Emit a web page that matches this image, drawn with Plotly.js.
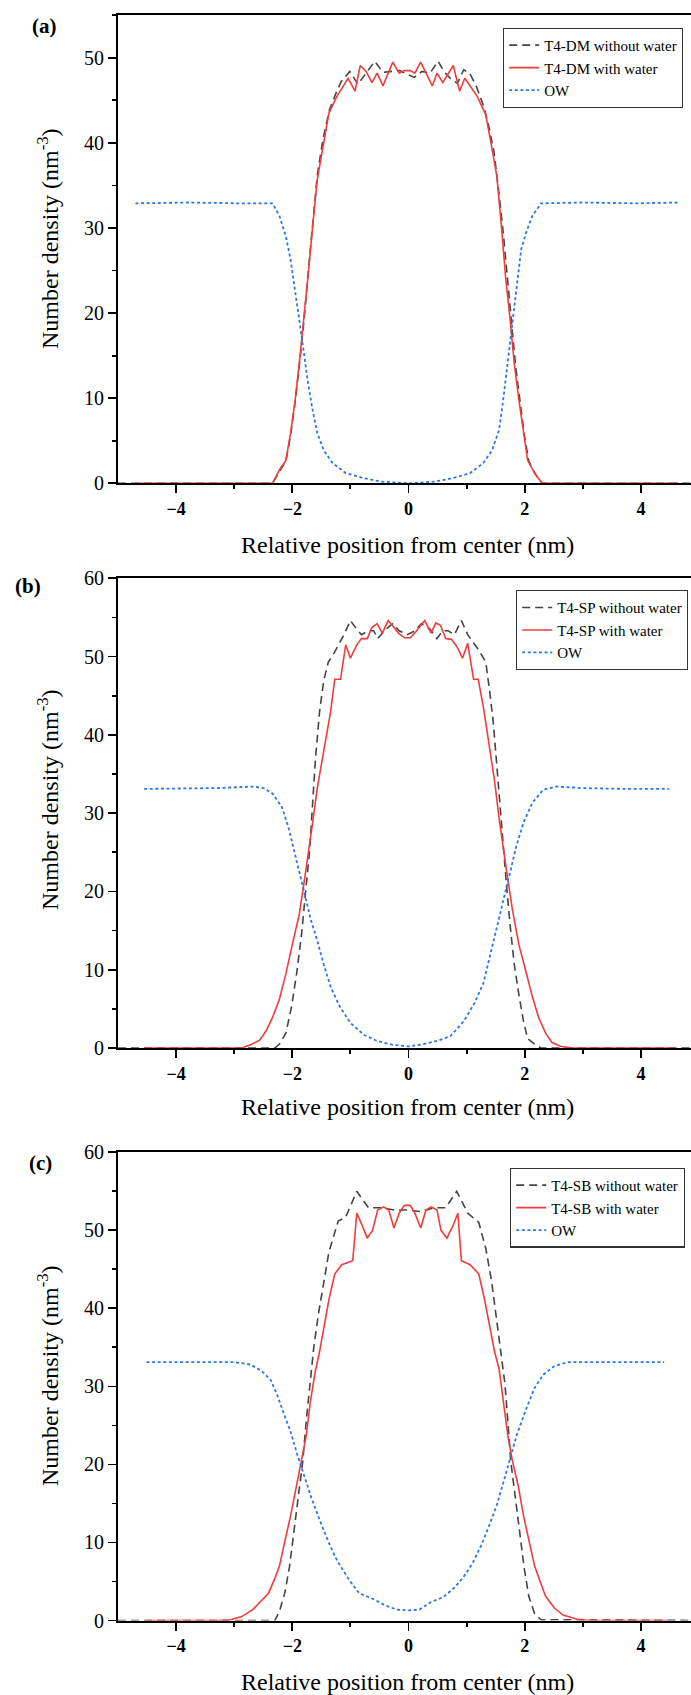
<!DOCTYPE html>
<html>
<head>
<meta charset="utf-8">
<script src="https://cdn.plot.ly/plotly-3.0.1.min.js"></script>
<style>
  html, body { margin: 0; padding: 0; overflow: hidden; background: #fff; }
  #chart { width: 720px; height: 1695px; }
</style>
</head>
<body>
<div id="chart"></div>
<script>
// ---------- Panel (a): T4-DM ----------
const xA_dry = [-5.0,-2.34,-2.22,-2.11,-2.03,-1.95,-1.88,-1.80,-1.73,-1.65,-1.57,-1.47,-1.36,-1.25,-1.16,-1.01,-0.87,-0.73,-0.58,-0.44,-0.29,-0.15,0.0,0.10,0.23,0.37,0.51,0.62,0.72,0.84,0.95,1.05,1.16,1.29,1.38,1.47,1.55,1.63,1.70,1.77,1.84,1.92,1.99,2.07,2.18,2.30,5.0];
const yA_dry = [0,0,1.4,2.6,5.6,9.6,13.8,19.0,24.5,30.5,36.2,40.5,43.9,45.8,47.2,48.4,46.9,48.2,49.6,48.3,48.4,48.5,48.0,47.7,48.4,48.2,49.6,48.3,47.6,47.0,48.6,48.2,46.8,44.4,42.0,39.0,34.5,29.5,24.3,19.0,14.0,9.6,5.8,2.6,1.1,0,0];

const xA_wet = [-4.70,-2.34,-2.22,-2.11,-2.03,-1.95,-1.88,-1.80,-1.73,-1.65,-1.57,-1.47,-1.37,-1.23,-1.04,-0.92,-0.83,-0.73,-0.63,-0.54,-0.44,-0.27,-0.16,-0.07,0.03,0.11,0.21,0.41,0.49,0.59,0.77,0.88,0.97,1.18,1.33,1.43,1.52,1.60,1.67,1.75,1.82,1.90,1.98,2.05,2.17,2.30,4.65];
const yA_wet = [0,0,1.6,2.7,5.9,9.8,14.1,19.2,24.3,30.2,35.7,39.6,43.5,45.5,47.6,46.1,49.1,48.4,47.1,48.2,46.7,49.5,48.2,48.5,48.5,48.2,49.5,46.7,48.2,47.1,49.1,46.1,47.6,45.5,43.3,39.6,36.1,30.2,24.3,19.2,14.1,9.8,5.9,2.7,1.2,0,0];

const xA_ow = [-4.70,-3.80,-2.90,-2.34,-2.22,-2.11,-2.03,-1.95,-1.88,-1.80,-1.73,-1.65,-1.57,-1.46,-1.31,-1.08,-0.77,-0.47,0.0,0.45,0.76,1.06,1.29,1.44,1.56,1.63,1.71,1.79,1.86,1.94,2.02,2.13,2.28,3.00,3.90,4.65];
const yA_ow = [32.9,33.0,32.9,32.9,31.4,29.0,26.3,22.7,19.2,15.3,11.8,8.6,5.9,3.9,2.4,1.2,0.6,0.2,0.0,0.2,0.6,1.2,2.4,3.9,6.3,9.8,14.5,19.2,23.5,27.5,29.4,31.4,32.9,33.0,32.9,33.0];

// ---------- Panel (b): T4-SP ----------
const xB_dry = [-5.0,-2.30,-2.22,-2.11,-2.01,-1.92,-1.84,-1.76,-1.70,-1.65,-1.60,-1.53,-1.46,-1.38,-1.27,-1.11,-1.00,-0.91,-0.81,-0.69,-0.60,-0.53,-0.39,-0.27,-0.16,-0.02,0.11,0.22,0.37,0.49,0.59,0.68,0.79,0.91,1.02,1.21,1.33,1.40,1.46,1.52,1.58,1.63,1.69,1.75,1.82,1.90,1.98,2.05,2.17,2.28,5.0];
const yB_dry = [0,0,0.5,1.9,5.4,9.8,14.6,20.5,25.4,31.3,37.1,43.0,46.9,49.3,50.6,52.8,54.6,53.7,52.8,53.3,53.3,52.3,53.5,54.2,53.3,52.8,53.3,54.2,53.5,52.3,53.3,53.3,52.8,54.6,52.8,50.8,49.3,45.4,41.5,36.1,30.3,25.4,20.5,15.6,10.7,6.8,3.4,1.2,0.5,0,0];

const xB_wet = [-4.55,-2.87,-2.72,-2.56,-2.45,-2.34,-2.22,-2.11,-2.00,-1.88,-1.80,-1.73,-1.65,-1.57,-1.46,-1.34,-1.27,-1.17,-1.08,-1.00,-0.89,-0.81,-0.71,-0.63,-0.54,-0.45,-0.35,-0.25,-0.16,-0.07,0.03,0.13,0.28,0.39,0.47,0.55,0.64,0.74,0.83,0.93,1.02,1.12,1.20,1.29,1.38,1.48,1.56,1.63,1.71,1.79,1.90,2.02,2.13,2.24,2.36,2.47,2.63,2.85,4.57];
const yB_wet = [0,0,0.4,1.0,2.2,3.9,6.3,9.5,13.2,17.1,21.0,24.4,28.8,33.2,38.1,43.0,47.1,47.1,51.5,49.8,51.5,52.3,52.3,53.7,54.2,53.0,54.6,53.7,52.9,52.4,52.4,53.2,54.6,53.0,54.3,54.0,52.3,52.2,51.3,49.8,51.7,47.1,47.1,43.5,39.1,34.2,29.3,25.4,21.5,17.6,13.2,9.8,6.6,3.9,1.9,0.7,0.2,0,0];

const xB_ow = [-4.55,-3.90,-3.29,-2.68,-2.49,-2.34,-2.18,-2.07,-1.98,-1.88,-1.78,-1.69,-1.57,-1.46,-1.34,-1.19,-1.00,-0.77,-0.54,-0.27,0.0,0.26,0.49,0.72,0.95,1.14,1.29,1.40,1.52,1.63,1.75,1.86,1.98,2.13,2.32,2.55,2.97,3.73,4.48];
const yB_ow = [33.1,33.2,33.2,33.4,33.2,32.5,30.8,28.3,25.4,22.5,19.5,16.6,13.7,10.7,7.8,5.4,3.2,1.7,0.9,0.4,0.2,0.5,0.9,1.5,3.4,5.8,8.3,11.7,15.6,19.0,22.5,25.9,28.8,31.3,33.0,33.4,33.2,33.1,33.1];

// ---------- Panel (c): T4-SB ----------
const xC_dry = [-5.0,-2.30,-2.22,-2.13,-2.05,-1.98,-1.90,-1.82,-1.76,-1.70,-1.63,-1.55,-1.47,-1.37,-1.21,-1.08,-0.89,-0.69,-0.47,-0.24,0.0,0.22,0.45,0.64,0.83,1.02,1.21,1.33,1.43,1.50,1.58,1.66,1.71,1.76,1.84,1.92,1.99,2.07,2.17,2.28,5.0];
const yC_dry = [0,0,1.2,3.5,6.8,11.0,15.7,20.4,25.6,30.3,35.0,39.3,43.0,47.2,51.2,51.7,55.0,52.9,52.9,52.6,52.6,52.4,52.9,52.9,55.0,52.2,51.0,47.7,43.5,39.3,35.0,30.3,25.6,20.4,15.7,11.0,6.8,3.1,0.9,0.1,0];

const xC_wet = [-4.51,-3.29,-3.06,-2.87,-2.68,-2.53,-2.41,-2.30,-2.22,-2.13,-2.03,-1.93,-1.84,-1.76,-1.69,-1.61,-1.53,-1.46,-1.37,-1.27,-1.15,-0.96,-0.89,-0.79,-0.71,-0.62,-0.53,-0.43,-0.34,-0.25,-0.16,-0.07,0.03,0.11,0.21,0.30,0.39,0.49,0.56,0.66,0.76,0.85,0.91,1.06,1.21,1.31,1.40,1.48,1.56,1.63,1.71,1.79,1.89,1.98,2.08,2.17,2.27,2.36,2.51,2.66,2.89,3.12,4.46];
const yC_wet = [0,0,0.1,0.5,1.4,2.6,3.5,5.4,7.0,10.1,13.4,17.2,20.4,23.7,28.0,31.7,34.5,37.4,41.1,44.4,45.6,46.1,52.2,50.5,49.0,50.0,52.6,53.0,52.6,50.3,52.2,53.2,53.2,52.2,50.3,52.6,53.0,52.6,50.0,49.0,50.5,52.2,46.1,45.6,44.4,41.1,37.4,34.5,32.2,28.0,23.7,20.4,17.2,13.4,10.1,7.0,4.9,3.1,1.6,0.7,0.2,0,0];

const xC_ow = [-4.51,-3.67,-2.98,-2.72,-2.53,-2.37,-2.26,-2.15,-2.03,-1.92,-1.80,-1.67,-1.53,-1.38,-1.23,-1.04,-0.85,-0.62,-0.39,-0.20,0.0,0.19,0.37,0.60,0.79,0.95,1.10,1.25,1.38,1.52,1.63,1.75,1.86,2.02,2.17,2.32,2.51,2.74,3.58,4.40];
const yC_ow = [33.1,33.1,33.1,32.8,32.0,30.8,28.9,26.6,24.2,21.4,18.6,15.7,12.9,10.1,7.7,5.4,3.5,2.8,1.9,1.4,1.3,1.4,2.3,3.0,4.2,5.6,7.3,9.6,12.0,14.8,17.6,20.9,23.7,27.0,29.8,31.5,32.6,33.1,33.1,33.1];

// ---------- labels ----------
const panelLabels = ['(a)', '(b)', '(c)'];
const seriesNames = [
  ['T4-DM without water', 'T4-DM with water', 'OW'],
  ['T4-SP without water', 'T4-SP with water', 'OW'],
  ['T4-SB without water', 'T4-SB with water', 'OW']
];
const xTitle = 'Relative position from center (nm)';
const yTitle = 'Number density (nm<sup>-3</sup>)';
const xTickVals = [-4, -2, 0, 2, 4];
const yMax = [55, 60, 60];

// ---------- styling ----------
const W = 720, H = 1695;
const L = 118, R = 699;               // plot area left/right in px
const panelsPx = [[15.3, 483.3], [578.3, 1048], [1152.3, 1620.5]]; // top, bottom
const xTitleY = [545, 1107, 1682];
const yTitleY = [239, 800, 1376];
const yTitleX = 48;
const serif = 'Liberation Serif, Times New Roman, serif';
const gray = '#444444', red = '#f23c3c', blue = '#2a78e4';

const data = [
  [xA_dry, yA_dry, xA_wet, yA_wet, xA_ow, yA_ow],
  [xB_dry, yB_dry, xB_wet, yB_wet, xB_ow, yB_ow],
  [xC_dry, yC_dry, xC_wet, yC_wet, xC_ow, yC_ow]
];

const traces = [];
const legendKeys = ['legend', 'legend2', 'legend3'];
data.forEach((d, i) => {
  const sfx = i === 0 ? '' : String(i + 1);
  const common = { type: 'scatter', mode: 'lines', xaxis: 'x' + sfx, yaxis: 'y' + sfx, legend: legendKeys[i], hoverinfo: 'skip' };
  traces.push(Object.assign({}, common, { x: d[0], y: d[1], name: seriesNames[i][0], line: { color: gray, width: 1.6, dash: '8px,5px' } }));
  traces.push(Object.assign({}, common, { x: d[2], y: d[3], name: seriesNames[i][1], line: { color: red, width: 1.6 } }));
  traces.push(Object.assign({}, common, { x: d[4], y: d[5], name: seriesNames[i][2], line: { color: blue, width: 1.8, dash: '3px,2.6px' } }));
});

const layout = {
  width: W, height: H,
  margin: { l: L, r: W - R, t: 0, b: 0 },
  paper_bgcolor: '#fff', plot_bgcolor: '#fff',
  showlegend: true,
  font: { family: serif, color: '#000' },
  annotations: []
};

const legendPos = [
  { right: 683, top: 27.7 },
  { right: 688, top: 590 },
  { right: 685, top: 1167.7 }
];
const labelPos = [[44, 26], [28, 586], [40, 1163]];
const px2x = p => (p - L) / (R - L);
const px2y = p => 1 - p / H;

for (let i = 0; i < 3; i++) {
  const sfx = i === 0 ? '' : String(i + 1);
  const [top, bot] = panelsPx[i];
  layout['xaxis' + sfx] = {
    anchor: 'y' + sfx,
    range: [-5, 5],
    tickvals: xTickVals,
    ticks: 'outside', ticklen: 8, tickwidth: 1.8, tickcolor: '#000',
    minor: { tickvals: [-3, -1, 1, 3], ticks: 'outside', ticklen: 4, tickwidth: 1.8, tickcolor: '#000' },
    showline: true, linecolor: '#000', linewidth: 2, mirror: true,
    showgrid: false, zeroline: false,
    tickfont: { family: serif, size: 18, weight: 'bold', color: '#000' }
  };
  layout['yaxis' + sfx] = {
    anchor: 'x' + sfx,
    domain: [1 - bot / H, 1 - top / H],
    range: [0, yMax[i]],
    dtick: 10, tick0: 0,
    ticks: 'outside', ticklen: 8, tickwidth: 1.8, tickcolor: '#000',
    minor: { dtick: 5, ticks: 'outside', ticklen: 4, tickwidth: 1.8, tickcolor: '#000' },
    showline: true, linecolor: '#000', linewidth: 2, mirror: true,
    showgrid: false, zeroline: false,
    tickfont: { family: serif, size: 20, color: '#000' }
  };
  layout[legendKeys[i]] = {
    x: px2x(legendPos[i].right), xanchor: 'right',
    y: px2y(legendPos[i].top), yanchor: 'top',
    bgcolor: '#fff', bordercolor: '#333', borderwidth: 1.2,
    font: { family: serif, size: 15, color: '#000' },
    tracegroupgap: 0, itemwidth: 30
  };
  // panel label
  layout.annotations.push({
    text: '<b>' + panelLabels[i] + '</b>',
    xref: 'paper', yref: 'paper',
    x: px2x(labelPos[i][0]), y: px2y(labelPos[i][1]),
    xanchor: 'center', yanchor: 'middle', showarrow: false,
    font: { family: serif, size: 21, color: '#000' }
  });
  // x axis title
  layout.annotations.push({
    text: xTitle,
    xref: 'paper', yref: 'paper',
    x: 0.5 * (px2x(L) + px2x(R)) - 0.0009, y: px2y(xTitleY[i]),
    xanchor: 'center', yanchor: 'middle', showarrow: false,
    font: { family: serif, size: 24, color: '#000' }
  });
  // y axis title
  layout.annotations.push({
    text: yTitle, textangle: -90,
    xref: 'paper', yref: 'paper',
    x: px2x(yTitleX), y: px2y(yTitleY[i]),
    xanchor: 'center', yanchor: 'middle', showarrow: false,
    font: { family: serif, size: 24, color: '#000' }
  });
}

Plotly.newPlot('chart', traces, layout, { staticPlot: true, displayModeBar: false });
</script>
</body>
</html>
